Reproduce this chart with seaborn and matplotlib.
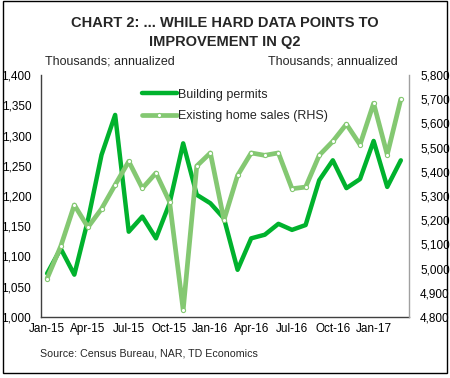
import matplotlib
matplotlib.use("Agg")
import matplotlib.pyplot as plt
import seaborn as sns
import pandas as pd
from matplotlib.patches import Rectangle
from matplotlib.lines import Line2D
from matplotlib.ticker import FuncFormatter

months = ["Jan-15", "Feb-15", "Mar-15", "Apr-15", "May-15", "Jun-15", "Jul-15", "Aug-15", "Sep-15",
          "Oct-15", "Nov-15", "Dec-15", "Jan-16", "Feb-16", "Mar-16", "Apr-16", "May-16", "Jun-16",
          "Jul-16", "Aug-16", "Sep-16", "Oct-16", "Nov-16", "Dec-16", "Jan-17", "Feb-17", "Mar-17"]
permits = [1072, 1113, 1070, 1160, 1268, 1334, 1141, 1166, 1130, 1188, 1287, 1202, 1188, 1163,
           1078, 1130, 1136, 1154, 1144, 1152, 1226, 1259, 1213, 1228, 1291, 1215, 1259]
home_sales = [4959, 5092, 5263, 5171, 5247, 5346, 5443, 5332, 5395, 5276, 4829, 5424, 5478, 5201,
              5385, 5478, 5468, 5478, 5330, 5337, 5468, 5526, 5597, 5512, 5683, 5471, 5700]
tick_months = ["Jan-15", "Apr-15", "Jul-15", "Oct-15", "Jan-16", "Apr-16", "Jul-16", "Oct-16", "Jan-17"]

df = pd.DataFrame({"idx": range(len(months)), "month": months,
                   "permits": permits, "sales": home_sales})

sns.set_style("white")
plt.rcParams["font.family"] = ["Liberation Sans", "DejaVu Sans"]

DARK = "#00B22D"
LIGHT = "#84C872"

fig = plt.figure(figsize=(4.5, 3.78), dpi=100)
ax = fig.add_axes([41/450, 1-317/378, 368/450, 242/378])
ax2 = ax.twinx()

sns.lineplot(data=df, x="idx", y="permits", ax=ax, color=DARK, linewidth=3.2, legend=False)
sns.lineplot(data=df, x="idx", y="sales", ax=ax2, color=LIGHT, linewidth=3.4, legend=False,
             marker="o", markersize=3, markerfacecolor="white", markeredgecolor=LIGHT,
             markeredgewidth=0.8)

ax.set_xlim(-0.45, 26.6)
ax.set_ylim(1000, 1400)
ax2.set_ylim(4800, 5800)
ax.set_yticks(range(1000, 1401, 50))
ax2.set_yticks(range(4800, 5801, 100))
fmt = FuncFormatter(lambda v, p: f"{int(v):,}")
ax.yaxis.set_major_formatter(fmt)
ax2.yaxis.set_major_formatter(fmt)
ax.set_xticks([months.index(m) for m in tick_months])
ax.set_xticklabels(tick_months)
ax.set_xlabel("")
ax.set_ylabel("")
ax2.set_ylabel("")

for a in (ax, ax2):
    a.tick_params(axis="both", length=0, labelsize=8.5, colors="black")
    a.spines["top"].set_visible(False)
    a.grid(False)
ax.tick_params(axis="y", pad=7)
ax2.tick_params(axis="y", pad=8)
ax.tick_params(axis="x", pad=4)
ax.spines["left"].set_color("#404040")
ax.spines["bottom"].set_color("#404040")
ax.spines["right"].set_visible(False)
ax2.spines["left"].set_visible(False)
ax2.spines["bottom"].set_visible(False)
ax2.spines["right"].set_color("#a0a0a0")
for a in (ax, ax2):
    for s in a.spines.values():
        s.set_linewidth(1.0)

handles = [Line2D([], [], color=DARK, linewidth=3.2),
           Line2D([], [], color=LIGHT, linewidth=3.4, marker="o", markersize=3,
                  markerfacecolor="white", markeredgecolor=LIGHT, markeredgewidth=0.8)]
ax.legend(handles, ["Building permits", "Existing home sales (RHS)"], loc="upper left",
          bbox_to_anchor=(0.25, 0.98), frameon=False, fontsize=9, handlelength=2.8,
          handletextpad=0.1, labelspacing=0.75, borderaxespad=0.3, numpoints=1)

fig.text(0.5, 1-23/378, "CHART 2: ... WHILE HARD DATA POINTS TO", ha="center", va="center",
         fontsize=10.5, fontweight="bold")
fig.text(0.5, 1-42/378, "IMPROVEMENT IN Q2", ha="center", va="center",
         fontsize=10.5, fontweight="bold")
fig.text(45/450, 1-62/378, "Thousands; annualized", ha="left", va="center", fontsize=9)
fig.text(398/450, 1-62/378, "Thousands; annualized", ha="right", va="center", fontsize=9)
fig.text(40/450, 1-354/378, "Source: Census Bureau, NAR, TD Economics", ha="left", va="center",
         fontsize=7.7)

fig.patches.append(Rectangle((2.5/450, 1-373/378), 444.5/450, 372/378, transform=fig.transFigure,
                             fill=False, edgecolor="black", linewidth=1.0))

fig.savefig("out.png", dpi=100)
